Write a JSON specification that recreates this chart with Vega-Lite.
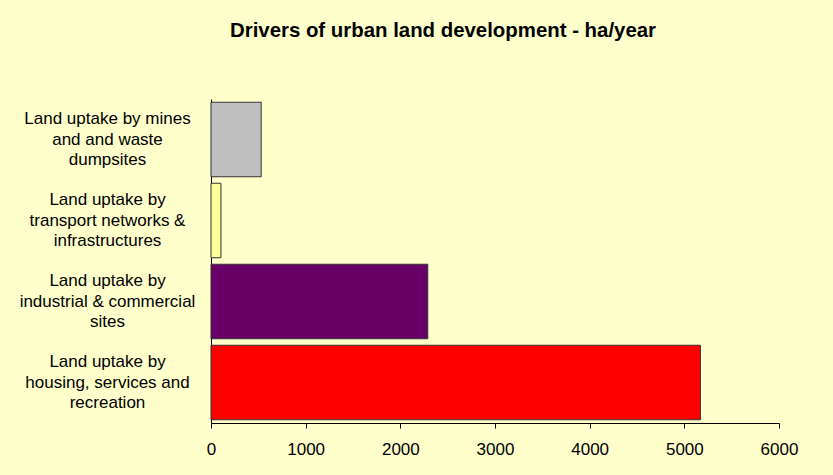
{
  "$schema": "https://vega.github.io/schema/vega-lite/v6.json",
  "autosize": {"type": "none"},
  "width": 568,
  "height": 324,
  "padding": {"left": 211, "top": 99, "right": 54, "bottom": 52},
  "background": "#FFFFCC",
  "title": {
    "text": "Drivers of urban land development - ha/year",
    "font": "Liberation Sans",
    "fontSize": 20.4,
    "fontWeight": "bold",
    "color": "#000000",
    "anchor": "middle",
    "frame": "group",
    "baseline": "alphabetic",
    "offset": 42,
    "dx": -52
  },
  "data": {
    "values": [
      {"driver": "Land uptake by mines|and and waste|dumpsites", "ha_per_year": 530},
      {"driver": "Land uptake by|transport networks &|infrastructures", "ha_per_year": 105},
      {"driver": "Land uptake by|industrial & commercial|sites", "ha_per_year": 2290},
      {"driver": "Land uptake by|housing, services and|recreation", "ha_per_year": 5170}
    ]
  },
  "mark": {"type": "bar", "stroke": "#333333", "strokeWidth": 1},
  "encoding": {
    "y": {
      "field": "driver",
      "type": "nominal",
      "sort": null,
      "scale": {"paddingInner": 0.08, "paddingOuter": 0.04},
      "axis": {
        "title": null,
        "labelExpr": "split(datum.label, '|')",
        "labelAlign": "center",
        "labelBaseline": "middle",
        "labelOffset": -20.5,
        "labelPadding": 104,
        "labelFont": "Liberation Sans",
        "labelFontSize": 17,
        "labelLineHeight": 20.7,
        "labelColor": "#000000",
        "labelLimit": 300,
        "ticks": false,
        "tickSize": 0,
        "domainColor": "#000000",
        "domainWidth": 1,
        "grid": false
      }
    },
    "x": {
      "field": "ha_per_year",
      "type": "quantitative",
      "scale": {"domain": [0, 6000], "nice": false},
      "axis": {
        "title": null,
        "values": [0, 1000, 2000, 3000, 4000, 5000, 6000],
        "format": "d",
        "labelFont": "Liberation Sans",
        "labelFontSize": 17,
        "labelColor": "#000000",
        "labelPadding": 13,
        "tickSize": 5,
        "tickColor": "#000000",
        "domainColor": "#000000",
        "grid": false,
        "labelFlush": false,
        "labelOverlap": false
      }
    },
    "color": {
      "field": "driver",
      "type": "nominal",
      "legend": null,
      "scale": {
        "domain": [
          "Land uptake by mines|and and waste|dumpsites",
          "Land uptake by|transport networks &|infrastructures",
          "Land uptake by|industrial & commercial|sites",
          "Land uptake by|housing, services and|recreation"
        ],
        "range": ["#C0C0C0", "#FFFF99", "#660066", "#FF0000"]
      }
    }
  },
  "config": {
    "view": {"stroke": null}
  }
}
